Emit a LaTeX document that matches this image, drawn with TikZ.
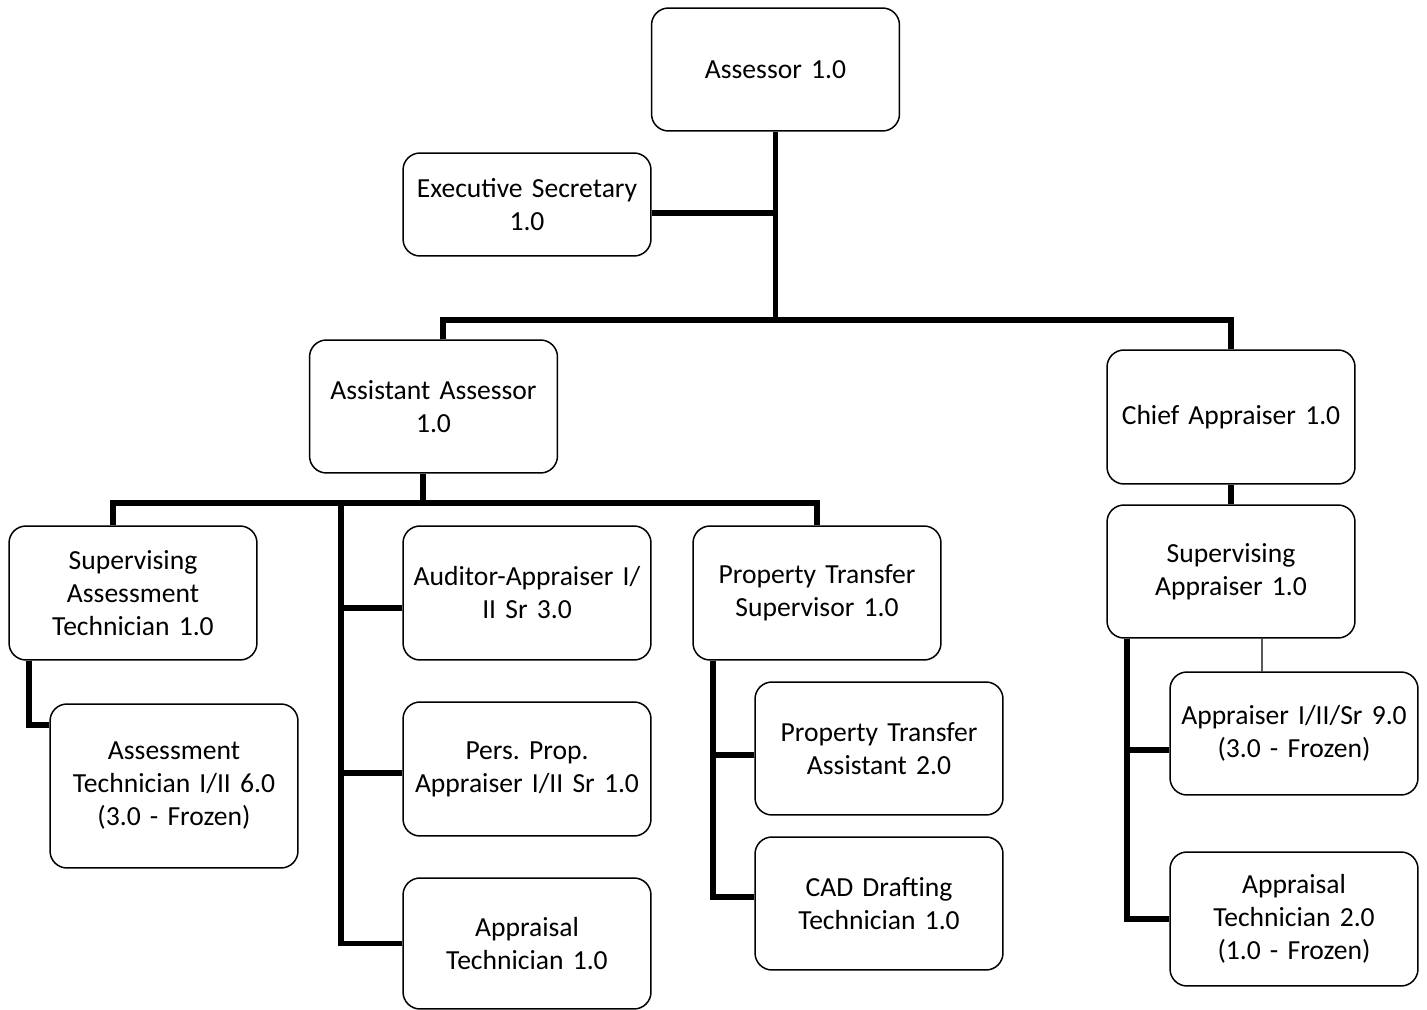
\documentclass[tikz,border=0pt]{standalone}
\usepackage{fontspec}
\setmainfont{Carlito}[WordSpace=0.7]
\frenchspacing
\usepackage{tikz}
\usetikzlibrary{positioning}
\tikzset{
    %Define style for boxes
    unit/.style={
           rectangle,
           rounded corners=0.34cm,
           draw=black, line width=0.85pt,
           minimum width=4.96cm,
           text width=4.6cm,
           inner sep=0pt,
           font=\fontsize{15.7}{18.8}\selectfont,
           align=center},
    % Define line styles
    link/.style={
           line width=3.2pt},
    thinlink/.style={
           line width=0.6pt}
}
\begin{document}
\begin{tikzpicture}[x=0.02cm,y=-0.02cm]
\useasboundingbox (0,0) rectangle (1427,1010);
 %nodes
\node[unit, minimum height=2.46cm] (assessor) at (775.5,69.5) {Assessor 1.0};
\node[unit, minimum height=2.06cm] (execsec) at (527,204.5) {Executive Secretary\\1.0};
\node[unit, minimum height=2.66cm] (asstassessor) at (433.5,406.5) {Assistant Assessor\\1.0};
\node[unit, minimum height=2.68cm] (chief) at (1231,417) {Chief Appraiser 1.0};
\node[unit, minimum height=2.68cm] (supassess) at (133,593) {Supervising\\Assessment\\Technician 1.0};
\node[unit, minimum height=3.28cm] (assesstech) at (174,786) {Assessment\\Technician I/II 6.0\\(3.0 - Frozen)};
\node[unit, minimum height=2.68cm] (auditor) at (527,593) {Auditor-Appraiser I/\\II Sr 3.0};
\node[unit, minimum height=2.68cm] (persprop) at (527,769) {Pers. Prop.\\Appraiser I/II Sr 1.0};
\node[unit, minimum height=2.62cm] (appraisal1) at (527,943.5) {Appraisal\\Technician 1.0};
\node[unit, minimum height=2.68cm] (ptsuper) at (817,593) {Property Transfer\\Supervisor 1.0};
\node[unit, minimum height=2.66cm] (ptassist) at (879,748.5) {Property Transfer\\Assistant 2.0};
\node[unit, minimum height=2.66cm] (caddraft) at (879,903.5) {CAD Drafting\\Technician 1.0};
\node[unit, minimum height=2.66cm] (supappr) at (1231,571.5) {Supervising\\Appraiser 1.0};
\node[unit, minimum height=2.46cm] (appraiser) at (1294,733.5) {Appraiser I/II/Sr 9.0\\(3.0 - Frozen)};
\node[unit, minimum height=2.68cm] (appraisal2) at (1294,919) {Appraisal\\Technician 2.0\\(1.0 - Frozen)};

 %junctions
\coordinate (bus1) at (775.5,320);
\coordinate (bus2) at (423,503);
\coordinate (spine) at (341,503);

 %top level
\draw[link] (assessor.south) -- (bus1);
\draw[link] ([yshift=-0.17cm]execsec.east) -- ++(124.5,0);
\draw[link] ([xshift=0.19cm]asstassessor.north) |- (bus1) -| (chief.north);

 %assistant assessor
\draw[link] ([xshift=-0.21cm]asstassessor.south) -- ++(0,30);
\draw[link] ([xshift=-0.4cm]supassess.north) |- (bus2) -| (ptsuper.north);
\draw[link] (spine) |- (appraisal1.west);
\draw[link] ([yshift=-0.3cm]auditor.west) -- ++(-62,0);
\draw[link] ([yshift=-0.08cm]persprop.west) -- ++(-62,0);
\draw[link] ([xshift=0.42cm]supassess.south west) |- ([yshift=1.22cm]assesstech.west);
\draw[link] ([xshift=0.42cm]ptsuper.south west) |- ([yshift=0.13cm]caddraft.west);
\draw[link] ([yshift=-0.13cm]ptassist.west) -- ++(-41,0);

 %chief appraiser
\draw[link] (chief.south) -- (supappr.north);
\draw[link] ([xshift=0.42cm]supappr.south west) |- (appraisal2.west);
\draw[link] ([yshift=-0.33cm]appraiser.west) -- ++(-42,0);
\draw[thinlink] ([xshift=0.62cm]supappr.south) -- ([xshift=-0.64cm]appraiser.north);
\end{tikzpicture}
\end{document}
